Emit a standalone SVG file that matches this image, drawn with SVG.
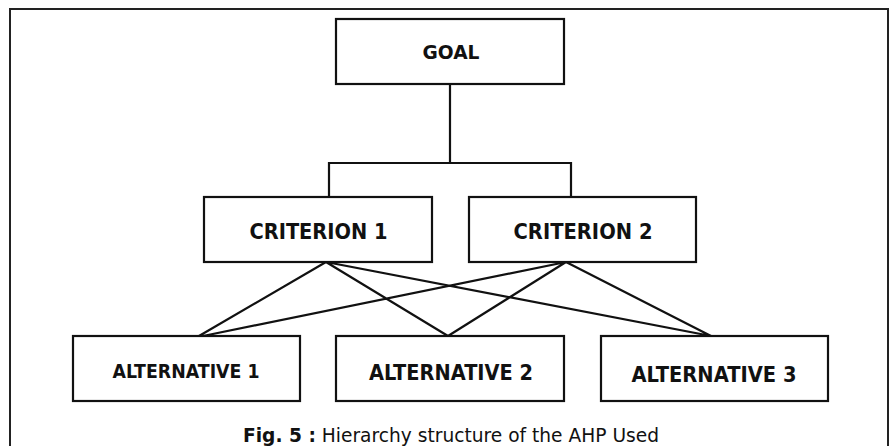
<svg xmlns="http://www.w3.org/2000/svg" width="891" height="446" viewBox="0 0 891 446">
<style>
.box{fill:#fff;stroke:#111;stroke-width:2.2}
.lbl{font-family:"DejaVu Sans",Verdana,sans-serif;font-weight:bold;fill:#111;text-anchor:middle}
.con{fill:none;stroke:#111;stroke-width:2.2}
.cap{font-family:"DejaVu Sans",Verdana,sans-serif;fill:#111;font-size:20px}
</style>
<rect x="0" y="0" width="891" height="446" fill="#fff"/>
<rect x="10" y="9" width="878" height="450" fill="none" stroke="#222" stroke-width="2"/>
<g id="connectors">
<path class="con" d="M450,84 V163 M329,197 V163 H571 V197"/>
<path class="con" d="M326,262 L199,336 M326,262 L448,336 M326,262 L711,336 M566,262 L203,336 M566,262 L448,336 M566,262 L711,336"/>
</g>
<g id="goal"><rect class="box" x="336" y="19" width="228" height="65"/><text class="lbl" x="451" y="59" font-size="20" textLength="57" lengthAdjust="spacingAndGlyphs">GOAL</text></g>
<g id="criterion1"><rect class="box" x="204" y="197" width="228" height="65"/><text class="lbl" x="318.5" y="239" font-size="22" textLength="138" lengthAdjust="spacingAndGlyphs">CRITERION 1</text></g>
<g id="criterion2"><rect class="box" x="469" y="197" width="227" height="65"/><text class="lbl" x="583" y="239" font-size="22" textLength="139" lengthAdjust="spacingAndGlyphs">CRITERION 2</text></g>
<g id="alternative1"><rect class="box" x="73" y="336" width="227" height="65"/><text class="lbl" x="186" y="378" font-size="19.5" textLength="147" lengthAdjust="spacingAndGlyphs">ALTERNATIVE 1</text></g>
<g id="alternative2"><rect class="box" x="336" y="336" width="228" height="65"/><text class="lbl" x="451" y="380" font-size="21" textLength="164" lengthAdjust="spacingAndGlyphs">ALTERNATIVE 2</text></g>
<g id="alternative3"><rect class="box" x="601" y="336" width="227" height="65"/><text class="lbl" x="714" y="382" font-size="21" textLength="165" lengthAdjust="spacingAndGlyphs">ALTERNATIVE 3</text></g>
<text class="cap" x="243" y="442" textLength="416" lengthAdjust="spacingAndGlyphs"><tspan font-weight="bold">Fig. 5 :</tspan> Hierarchy structure of the AHP Used</text>
</svg>
